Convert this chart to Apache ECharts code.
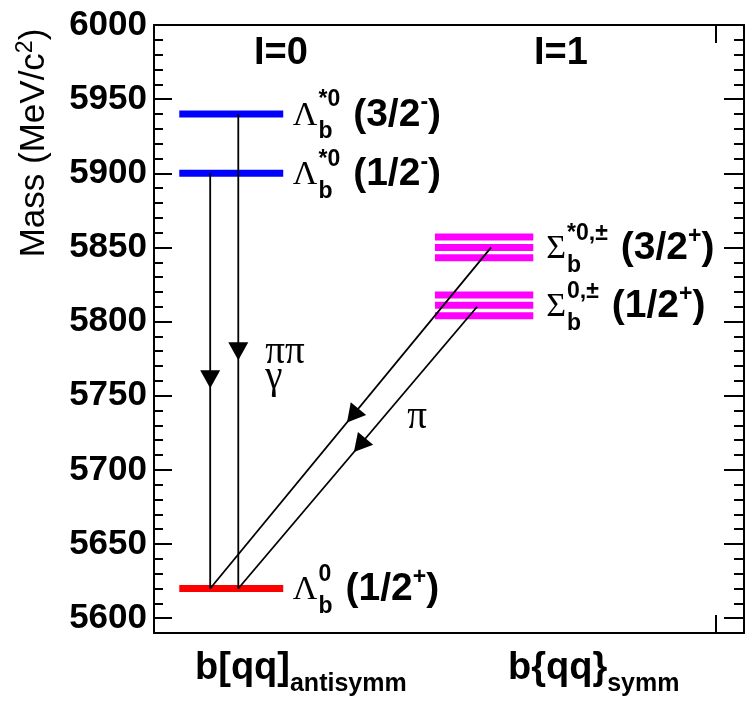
<!DOCTYPE html>
<html>
<head>
<meta charset="utf-8">
<script src="https://cdn.jsdelivr.net/npm/echarts@6/dist/echarts.min.js"></script>
<style>
  html, body { margin: 0; padding: 0; background: #fff; }
  #chart { width: 745px; height: 711px; }
</style>
</head>
<body>
<div id="chart"></div>
<script>
// ---- Mass scale (MeV/c^2) ----
const massMin = 5590;
const massMax = 6000;
const majorTicks = [5600, 5650, 5700, 5750, 5800, 5850, 5900, 5950, 6000];
const tickLabels = ['5600', '5650', '5700', '5750', '5800', '5850', '5900', '5950', '6000'];

// ---- Horizontal frame (arbitrary units) ----
const frameX = [0, 1.05];
const frameTicks = [1];
const isoscalarSpan = [0.045, 0.23];   // b[qq] antisymmetric column
const isovectorSpan = [0.5, 0.675];    // b{qq} symmetric column

// ---- Level masses ----
const lambdaExcited = [5940, 5900];          // Λb*0 (3/2-), Λb*0 (1/2-)
const lambdaGround = [5620];                 // Λb0 (1/2+)
const sigmaStar = [5857, 5850, 5843];        // Σb*0,± (3/2+)
const sigmaGround = [5818, 5811, 5804];      // Σb0,± (1/2+)

// ---- Transitions: [fromX, fromMass, toX, toMass, arrowTipMass] ----
const transitions = [
  [0.10, 5900, 0.10, 5620, 5755],
  [0.15, 5940, 0.15, 5620, 5774],
  [0.60, 5850, 0.10, 5620, 5732],
  [0.575, 5810, 0.15, 5620, 5712]
];

// ---- Level names ----
const levelLabels = [
  { sym: 'Λ', sup: '*0', sub: 'b', jp: '3/2', parity: '-', x: 0.247, mass: 5940 },
  { sym: 'Λ', sup: '*0', sub: 'b', jp: '1/2', parity: '-', x: 0.247, mass: 5900 },
  { sym: 'Λ', sup: '0', sub: 'b', jp: '1/2', parity: '+', x: 0.247, mass: 5620 },
  { sym: 'Σ', sup: '*0,±', sub: 'b', jp: '3/2', parity: '+', x: 0.698, mass: 5850 },
  { sym: 'Σ', sup: '0,±', sub: 'b', jp: '1/2', parity: '+', x: 0.698, mass: 5811 }
];
const headers = [
  { text: 'I=0', x: 0.226, mass: 5981 },
  { text: 'I=1', x: 0.724, mass: 5981 }
];
const decayLabels = [
  { text: 'ππ', x: 0.198, mass: 5779 },
  { text: 'γ', x: 0.198, mass: 5762 },
  { text: 'π', x: 0.468, mass: 5735 }
];
const quarkLabels = [
  { main: 'b[qq]', sub: 'antisymm', x: 0.073, mass: 5566 },
  { main: 'b{qq}', sub: 'symm', x: 0.63, mass: 5566 }
];

const SANS = '"Liberation Sans", Arial, Helvetica, sans-serif';
const SERIF = '"Liberation Serif", "Times New Roman", serif';

const minorTicks = [];
for (let m = massMin; m <= massMax; m += 10) minorTicks.push(m);

const measureCtx = document.createElement('canvas').getContext('2d');
function measure(text, font) {
  measureCtx.font = font;
  return measureCtx.measureText(text).width;
}
function textEl(text, font, x, y, align) {
  return {
    type: 'text', x: x, y: y,
    style: { text: text, font: font, fill: '#000', align: align || 'left', verticalAlign: 'middle' }
  };
}

function renderLevel(params, api) {
  const a = api.coord([api.value(0), api.value(2)]);
  const b = api.coord([api.value(1), api.value(2)]);
  return {
    type: 'line',
    shape: { x1: a[0], y1: a[1], x2: b[0], y2: b[1] },
    style: { stroke: api.visual('color'), lineWidth: 7, lineCap: 'butt' }
  };
}

function renderTransition(params, api) {
  const m0 = api.value(1), m1 = api.value(3);
  const a = api.coord([api.value(0), m0]);
  const b = api.coord([api.value(2), m1]);
  const t = (api.value(4) - m0) / (m1 - m0);
  const tx = a[0] + (b[0] - a[0]) * t;
  const ty = a[1] + (b[1] - a[1]) * t;
  const len = Math.hypot(b[0] - a[0], b[1] - a[1]);
  const ux = (b[0] - a[0]) / len, uy = (b[1] - a[1]) / len;
  const L = 18, W = 10;
  const bx = tx - ux * L, by = ty - uy * L;
  return {
    type: 'group',
    children: [
      { type: 'line', shape: { x1: a[0], y1: a[1], x2: b[0], y2: b[1] },
        style: { stroke: '#000', lineWidth: 1.8 } },
      { type: 'polygon',
        shape: { points: [[tx, ty], [bx - uy * W, by + ux * W], [bx + uy * W, by - ux * W]] },
        style: { fill: '#000' } }
    ]
  };
}

function renderLevelLabel(params, api) {
  const it = levelLabels[api.value(2)];
  const p = api.coord([api.value(0), api.value(1)]);
  const fSym = '34px ' + SERIF;
  const fScript = 'bold 23px ' + SANS;
  const fMain = 'bold 39px ' + SANS;
  const kids = [];
  let x = p[0];
  const y = p[1];
  kids.push(textEl(it.sym, fSym, x, y + 2));
  x += measure(it.sym, fSym) + 1;
  kids.push(textEl(it.sup, fScript, x, y - 14));
  kids.push(textEl(it.sub, fScript, x, y + 18));
  x += Math.max(measure(it.sup, fScript), measure(it.sub, fScript)) + 13;
  const open = '(' + it.jp;
  kids.push(textEl(open, fMain, x, y + 1));
  x += measure(open, fMain);
  kids.push(textEl(it.parity, fScript, x, y - 11));
  x += measure(it.parity, fScript);
  kids.push(textEl(')', fMain, x, y + 1));
  return { type: 'group', children: kids };
}

function renderHeader(params, api) {
  const p = api.coord([api.value(0), api.value(1)]);
  return textEl(headers[api.value(2)].text, 'bold 38px ' + SANS, p[0], p[1], 'center');
}

function renderDecayLabel(params, api) {
  const it = decayLabels[api.value(2)];
  const p = api.coord([api.value(0), api.value(1)]);
  return textEl(it.text, '39px ' + SERIF, p[0], p[1], it.text === 'π' ? 'center' : 'left');
}

function renderQuarkLabel(params, api) {
  const it = quarkLabels[api.value(2)];
  const p = api.coord([api.value(0), api.value(1)]);
  const fMain = 'bold 38px ' + SANS;
  const fSub = 'bold 25px ' + SANS;
  const w = measure(it.main, fMain);
  return {
    type: 'group',
    children: [
      textEl(it.main, fMain, p[0], p[1]),
      textEl(it.sub, fSub, p[0] + w, p[1] + 16)
    ]
  };
}

function levelData(span, masses) {
  return masses.map(m => [span[0], span[1], m]);
}
function labelData(list) {
  return list.map((d, i) => [d.x, d.mass, i]);
}

const axisLineStyle = { color: '#000', width: 2 };
const yCommon = {
  type: 'value', min: massMin, max: massMax, splitLine: { show: false }
};
const xCommon = {
  type: 'value', min: frameX[0], max: frameX[1], splitLine: { show: false },
  axisLine: { show: true, lineStyle: axisLineStyle },
  axisTick: { show: true, inside: true, length: 18, customValues: frameTicks, lineStyle: axisLineStyle },
  axisLabel: { show: false }
};

const chart = echarts.init(document.getElementById('chart'), null, { renderer: 'canvas' });
chart.setOption({
  animation: false,
  backgroundColor: '#fff',
  grid: { left: 154, right: 1, top: 25, bottom: 78, containLabel: false },
  xAxis: [
    Object.assign({}, xCommon, { position: 'bottom' }),
    Object.assign({}, xCommon, { position: 'top' })
  ],
  yAxis: [
    Object.assign({}, yCommon, {
      position: 'left',
      axisLine: { show: true, lineStyle: axisLineStyle },
      axisTick: { show: true, inside: true, length: 18, customValues: majorTicks, lineStyle: axisLineStyle },
      axisLabel: {
        show: true, customValues: majorTicks, margin: 7,
        formatter: v => tickLabels[majorTicks.indexOf(v)],
        color: '#000', fontFamily: SANS, fontWeight: 'bold', fontSize: 35
      }
    }),
    Object.assign({}, yCommon, {
      position: 'left',
      axisLine: { show: false },
      axisTick: { show: true, inside: true, length: 9, customValues: minorTicks, lineStyle: axisLineStyle },
      axisLabel: { show: false }
    }),
    Object.assign({}, yCommon, {
      position: 'right',
      axisLine: { show: true, lineStyle: axisLineStyle },
      axisTick: { show: true, inside: true, length: 20, customValues: majorTicks, lineStyle: axisLineStyle },
      axisLabel: { show: false }
    }),
    Object.assign({}, yCommon, {
      position: 'right',
      axisLine: { show: false },
      axisTick: { show: true, inside: true, length: 10, customValues: minorTicks, lineStyle: axisLineStyle },
      axisLabel: { show: false }
    })
  ],
  graphic: [{
    type: 'text', x: 34, y: 143, rotation: Math.PI / 2,
    style: {
      text: 'Mass (MeV/c{s|2})',
      fontFamily: SANS, fontSize: 35, fill: '#000', lineHeight: 40,
      align: 'center', verticalAlign: 'middle',
      rich: { s: { fontFamily: SANS, fontSize: 23, verticalAlign: 'top', lineHeight: 15 } }
    }
  }],
  series: [
    { type: 'custom', name: 'Λb excited', renderItem: renderLevel, itemStyle: { color: '#0000ff' },
      encode: { x: [0, 1], y: 2 }, data: levelData(isoscalarSpan, lambdaExcited) },
    { type: 'custom', name: 'Λb ground', renderItem: renderLevel, itemStyle: { color: '#ff0000' },
      encode: { x: [0, 1], y: 2 }, data: levelData(isoscalarSpan, lambdaGround) },
    { type: 'custom', name: 'Σb*', renderItem: renderLevel, itemStyle: { color: '#ff00ff' },
      encode: { x: [0, 1], y: 2 }, data: levelData(isovectorSpan, sigmaStar) },
    { type: 'custom', name: 'Σb', renderItem: renderLevel, itemStyle: { color: '#ff00ff' },
      encode: { x: [0, 1], y: 2 }, data: levelData(isovectorSpan, sigmaGround) },
    { type: 'custom', name: 'transitions', renderItem: renderTransition,
      encode: { x: [0, 2], y: [1, 3] }, data: transitions },
    { type: 'custom', name: 'level names', renderItem: renderLevelLabel,
      encode: { x: 0, y: 1 }, data: labelData(levelLabels) },
    { type: 'custom', name: 'isospin', renderItem: renderHeader,
      encode: { x: 0, y: 1 }, data: labelData(headers) },
    { type: 'custom', name: 'decays', renderItem: renderDecayLabel,
      encode: { x: 0, y: 1 }, data: labelData(decayLabels) },
    { type: 'custom', name: 'diquarks', renderItem: renderQuarkLabel, clip: false,
      encode: { x: 0, y: 1 }, data: labelData(quarkLabels) }
  ]
});
</script>
</body>
</html>
